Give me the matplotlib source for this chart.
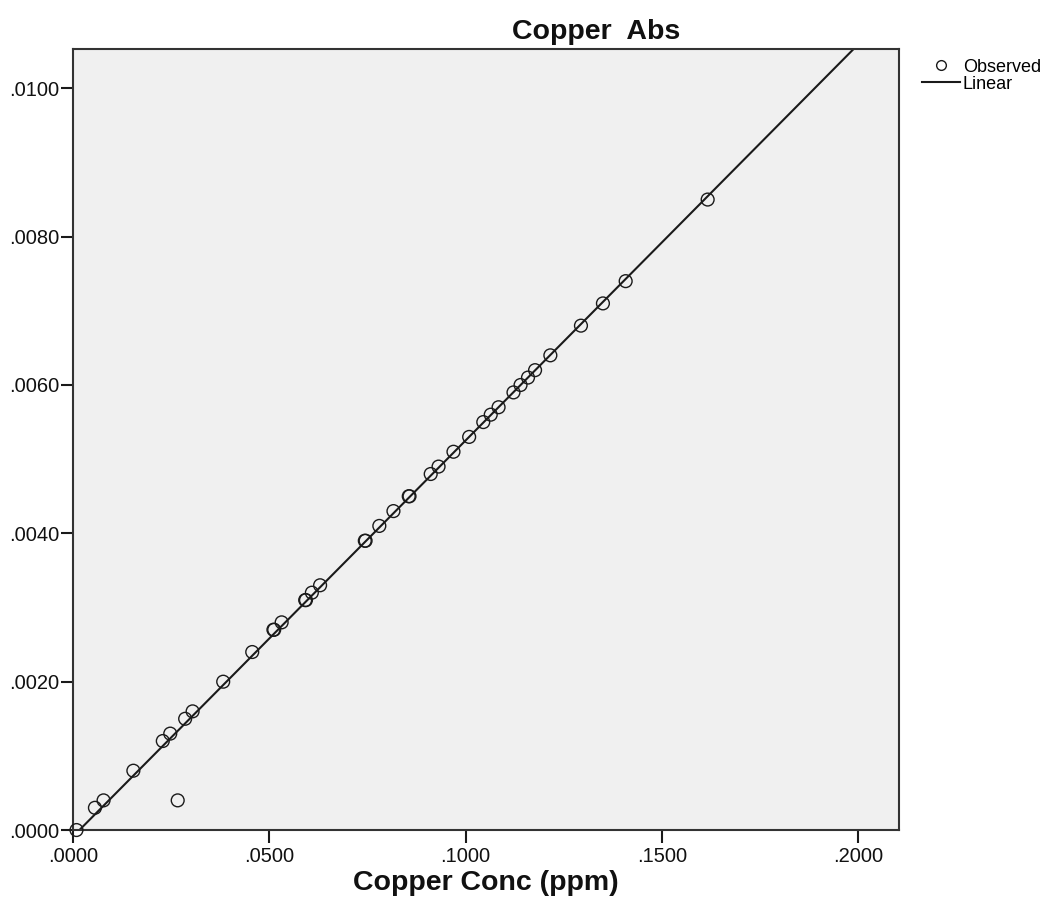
import numpy as np
from matplotlib import pyplot as plt, ticker
from matplotlib.lines import Line2D

# copper standards: concentration (ppm) vs absorbance
conc_ppm = [0.0008, 0.0055, 0.0077, 0.0153, 0.0228, 0.0247, 0.0266, 0.0285,
            0.0304, 0.0382, 0.0456, 0.0510, 0.0512, 0.0531, 0.0591, 0.0593,
            0.0608, 0.0629, 0.0743, 0.0745, 0.0780, 0.0816, 0.0855, 0.0857,
            0.0911, 0.0931, 0.0969, 0.1009, 0.1045, 0.1064, 0.1084, 0.1122,
            0.1140, 0.1159, 0.1177, 0.1216, 0.1294, 0.1350, 0.1408, 0.1617]
absorbance = [0.0000, 0.0003, 0.0004, 0.0008, 0.0012, 0.0013, 0.0004, 0.0015,
              0.0016, 0.0020, 0.0024, 0.0027, 0.0027, 0.0028, 0.0031, 0.0031,
              0.0032, 0.0033, 0.0039, 0.0039, 0.0041, 0.0043, 0.0045, 0.0045,
              0.0048, 0.0049, 0.0051, 0.0053, 0.0055, 0.0056, 0.0057, 0.0059,
              0.0060, 0.0061, 0.0062, 0.0064, 0.0068, 0.0071, 0.0074, 0.0085]

x_ticks = [0.0, 0.05, 0.10, 0.15, 0.20]
y_ticks = [0.0, 0.002, 0.004, 0.006, 0.008, 0.010]
X_MAX = 0.2105
Y_MAX = 0.01053

FONT = 'Liberation Sans'
INK = '#1a1a1a'

plt.rcParams['font.family'] = FONT

fig = plt.figure(figsize=(10.6, 9.19), dpi=100)
ax = fig.add_axes([0.0692, 0.0968, 0.7790, 0.8499])
ax.set_facecolor('#f0f0f0')

x = np.array(conc_ppm)
y = np.array(absorbance)
slope, intercept = np.polyfit(x, y, 1)
xs = np.array([0.0, X_MAX])
ax.plot(xs, intercept + slope * xs, color=INK, lw=1.5, zorder=2)
ax.scatter(x, y, s=85, facecolors='none', edgecolors=INK, linewidths=1.0,
           zorder=3, clip_on=False)

ax.set_xlim(0, X_MAX)
ax.set_ylim(0, Y_MAX)
ax.xaxis.set_major_locator(ticker.FixedLocator(x_ticks))
ax.yaxis.set_major_locator(ticker.FixedLocator(y_ticks))
fmt = ticker.FuncFormatter(lambda v, p: f"{v:.4f}".lstrip('0') if v >= 0 else f"{v:.4f}")
ax.xaxis.set_major_formatter(fmt)
ax.yaxis.set_major_formatter(fmt)
ax.tick_params(direction='out', length=9, width=1.5, color=INK,
               labelsize=14.5, labelcolor='#111111')
ax.tick_params(axis='y', pad=1)
ax.tick_params(axis='x', pad=3)
for s in ax.spines.values():
    s.set_linewidth(1.5)
    s.set_color('#333333')

fig.text(0.562, 0.965, 'Copper  Abs', ha='center', va='center',
         fontsize=20.5, fontweight='bold', color='#111111')
fig.text(0.4585, 0.039, 'Copper Conc (ppm)', ha='center', va='center',
         fontsize=20.5, fontweight='bold', color='#111111')

handles = [
    Line2D([], [], ls='none', marker='o', markersize=7, markerfacecolor='none',
           markeredgecolor=INK, markeredgewidth=1.0),
    Line2D([], [], color=INK, lw=1.5),
]
leg = fig.legend(handles, ['Observed', 'Linear'], loc='upper left',
                 bbox_to_anchor=(0.870, 0.936), frameon=False, fontsize=13,
                 handlelength=2.1, handletextpad=0.15, labelspacing=0.0,
                 borderaxespad=0, borderpad=0)

fig.savefig('out.png', dpi=100)
